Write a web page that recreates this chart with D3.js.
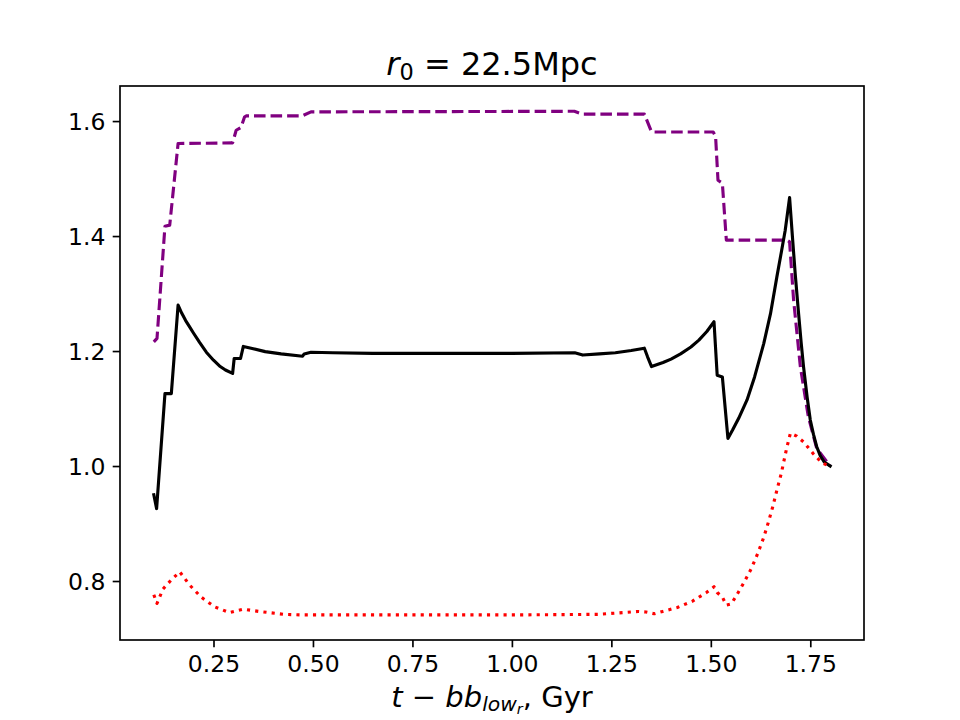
<!DOCTYPE html>
<html>
<head>
<meta charset="utf-8">
<script src="https://cdn.jsdelivr.net/npm/d3@7"></script>
<style>
  body { margin: 0; background: #fff; }
  svg { display: block; font-family: "DejaVu Sans", sans-serif; }
</style>
</head>
<body>
<div id="chart"></div>
<script>
// values
const purpleX = [0.100, 0.108, 0.128, 0.140, 0.161, 0.298, 0.307, 0.319, 0.328, 0.332, 0.473, 0.495,
    1.157, 1.178, 1.333, 1.351, 1.506, 1.512, 1.518, 1.529, 1.539, 1.691, 1.698, 1.708, 1.725, 1.745, 1.766, 1.800];
const purpleY = [1.216, 1.222, 1.417, 1.419, 1.561, 1.562, 1.584, 1.589, 1.607, 1.609, 1.609, 1.616,
    1.617, 1.612, 1.612, 1.581, 1.581, 1.573, 1.497, 1.492, 1.393, 1.393, 1.390, 1.289, 1.173, 1.086, 1.031, 1.000];

const blackX = [0.100, 0.107, 0.128, 0.144, 0.161, 0.170, 0.180, 0.190, 0.200, 0.215, 0.232, 0.250, 0.265,
    0.280, 0.298, 0.302, 0.318, 0.325, 0.350, 0.380, 0.420, 0.474, 0.478, 0.495, 0.550, 0.650, 0.800,
    1.000, 1.158, 1.178, 1.220, 1.260, 1.300, 1.333, 1.341, 1.351, 1.380, 1.400, 1.424, 1.450, 1.470,
    1.490, 1.508, 1.516, 1.529, 1.543, 1.555, 1.570, 1.591, 1.610, 1.633, 1.650, 1.666, 1.678, 1.687,
    1.698, 1.705, 1.712, 1.720, 1.727, 1.733, 1.742, 1.750, 1.758, 1.766, 1.775, 1.785, 1.800];
const blackY = [0.950, 0.926, 1.126, 1.126, 1.280, 1.266, 1.253, 1.242, 1.231, 1.215, 1.198, 1.184, 1.174,
    1.167, 1.161, 1.187, 1.187, 1.208, 1.204, 1.199, 1.195, 1.191, 1.195, 1.198, 1.197, 1.196, 1.196,
    1.196, 1.197, 1.193, 1.195, 1.197, 1.201, 1.205, 1.190, 1.173, 1.180, 1.186, 1.195, 1.207, 1.219,
    1.234, 1.251, 1.158, 1.155, 1.048, 1.063, 1.083, 1.115, 1.155, 1.213, 1.265, 1.329, 1.375, 1.410,
    1.467, 1.400, 1.335, 1.270, 1.215, 1.173, 1.120, 1.080, 1.055, 1.034, 1.018, 1.007, 1.000];

const redX = [0.100, 0.108, 0.123, 0.144, 0.165, 0.190, 0.219, 0.253, 0.290, 0.307, 0.325, 0.365, 0.428,
    0.470, 0.600, 0.800, 1.000, 1.216, 1.278, 1.318, 1.337, 1.358, 1.379, 1.416, 1.454, 1.489, 1.508,
    1.516, 1.529, 1.539, 1.551, 1.562, 1.583, 1.602, 1.618, 1.633, 1.645, 1.656, 1.666, 1.677, 1.690,
    1.700, 1.716, 1.733, 1.758, 1.780, 1.800];
const redY = [0.776, 0.761, 0.786, 0.802, 0.816, 0.793, 0.772, 0.755, 0.745, 0.748, 0.751, 0.747, 0.742,
    0.741, 0.741, 0.741, 0.741, 0.742, 0.745, 0.747, 0.746, 0.743, 0.747, 0.754, 0.765, 0.780, 0.790,
    0.780, 0.772, 0.758, 0.760, 0.772, 0.797, 0.822, 0.848, 0.876, 0.903, 0.930, 0.958, 0.987, 1.029,
    1.057, 1.052, 1.042, 1.021, 1.005, 1.000];

const xTicks = [0.25, 0.50, 0.75, 1.00, 1.25, 1.50, 1.75];
const yTicks = [0.8, 1.0, 1.2, 1.4, 1.6];

const margin = { top: 86, right: 96, bottom: 80, left: 120 };
const width = 960 - margin.left - margin.right;
const height = 720 - margin.top - margin.bottom;

const svg = d3.select("#chart")
    .append("svg")
    .attr("width", 960)
    .attr("height", 720);

const g = svg.append("g")
    .attr("transform", `translate(${margin.left},${margin.top})`);

const x = d3.scaleLinear()
    .domain([0.015, 1.885])
    .range([0, width]);

const y = d3.scaleLinear()
    .domain([0.6974, 1.661])
    .range([height, 0]);

const lineGen = d3.line()
    .x(d => x(d[0]))
    .y(d => y(d[1]));

const series = [
    { xs: purpleX, ys: purpleY, color: "#800080", dash: "11.56,5", cap: "butt" },
    { xs: blackX, ys: blackY, color: "#000000", dash: null, cap: "square" },
    { xs: redX, ys: redY, color: "#ff0000", dash: "3.125,5.16", cap: "butt" }
];

g.append("clipPath").attr("id", "clip")
    .append("rect").attr("width", width).attr("height", height);

g.selectAll(".series")
    .data(series)
    .enter()
    .append("path")
    .attr("class", "series")
    .attr("clip-path", "url(#clip)")
    .attr("fill", "none")
    .attr("stroke", d => d.color)
    .attr("stroke-width", 3.125)
    .attr("stroke-linejoin", "round")
    .attr("stroke-linecap", d => d.cap)
    .attr("stroke-dasharray", d => d.dash)
    .attr("d", d => lineGen(d.xs.map((v, i) => [v, d.ys[i]])));

// axes, matplotlib-like
const xAxis = g.append("g")
    .attr("transform", `translate(0,${height})`)
    .call(d3.axisBottom(x).tickValues(xTicks).tickFormat(d3.format(".2f")).tickSizeOuter(0).tickSize(7.3).tickPadding(7.3));

const yAxis = g.append("g")
    .call(d3.axisLeft(y).tickValues(yTicks).tickFormat(d3.format(".1f")).tickSizeOuter(0).tickSize(7.3).tickPadding(7.3));

[xAxis, yAxis].forEach(a => {
    a.select(".domain").remove();
    a.selectAll(".tick line").attr("stroke", "#000").attr("stroke-width", 1.67);
    a.selectAll(".tick text")
        .attr("fill", "#000")
        .style("font-family", "'DejaVu Sans', sans-serif")
        .style("font-size", "23.5px");
});
xAxis.selectAll(".tick text").attr("dy", "0.74em");
yAxis.selectAll(".tick text").attr("dy", "0.36em");

g.append("rect")
    .attr("width", width)
    .attr("height", height)
    .attr("fill", "none")
    .attr("stroke", "#000")
    .attr("stroke-width", 1.67);

// title: r_0 = 22.5Mpc
const title = svg.append("text")
    .attr("x", margin.left + width / 2)
    .attr("y", 75)
    .attr("text-anchor", "middle")
    .style("font-size", "32px")
    .attr("fill", "#000");
title.append("tspan").style("font-style", "italic").text("r");
title.append("tspan").attr("dy", 5).style("font-size", "22.4px").text("0");
title.append("tspan").attr("dy", -5).text(" = 22.5Mpc");

// x label: t - bb_{low_r}, Gyr
const xlabel = svg.append("text")
    .attr("x", margin.left + width / 2)
    .attr("y", 707)
    .attr("text-anchor", "middle")
    .style("font-size", "29px")
    .attr("fill", "#000");
xlabel.append("tspan").style("font-style", "italic").text("t");
xlabel.append("tspan").text(" \u2212 ");
xlabel.append("tspan").style("font-style", "italic").text("bb");
xlabel.append("tspan").attr("dy", 4).style("font-style", "italic").style("font-size", "20.3px").text("low");
xlabel.append("tspan").attr("dy", 3).style("font-style", "italic").style("font-size", "14.5px").text("r");
xlabel.append("tspan").attr("dy", -7).text(", Gyr");
</script>
</body>
</html>
